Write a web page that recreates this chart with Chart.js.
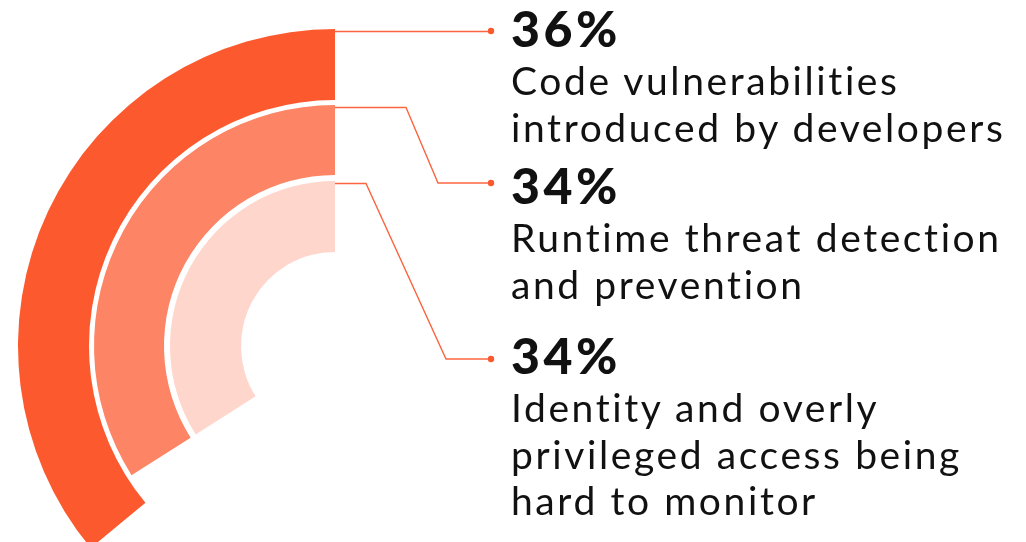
<!DOCTYPE html>
<html>
<head>
<meta charset="utf-8">
<script src="https://cdn.jsdelivr.net/npm/chart.js@4.4.1/dist/chart.umd.min.js"></script>
<style>
    html, body { margin: 0; padding: 0; background: #fff; }
    #wrap { position: relative; width: 1026px; height: 542px; overflow: hidden; }
    #chart { position: absolute; left: 0; top: 0; }
    .block { position: absolute; left: 511px; color: #111; font-family: "Lato", sans-serif; white-space: nowrap; }
    .pct { font-size: 50px; font-weight: 900; line-height: 48px; letter-spacing: 3.5px; }
    .desc { font-size: 39px; font-weight: 400; line-height: 46.5px; letter-spacing: 2.6px; margin-top: 5px; }
</style>
</head>
<body>
<div id="wrap">
    <canvas id="chart" width="1026" height="663"></canvas>
</div>
<script>
// data
const categories = [
    ['Code vulnerabilities', 'introduced by developers'],
    ['Runtime threat detection', 'and prevention'],
    ['Identity and overly', 'privileged access being', 'hard to monitor']
];
const shares = [36, 34, 34];
const ringColours = ['#fc5a2e', '#fd8465', '#ffd6cc'];

// layout
const blockTops = [4, 161, 331];
const anchors = [
    [[491, 31]],
    [[406, 108], [438, 183], [491, 183]],
    [[366, 185], [446, 359], [491, 359]]
];
const ringWeight = [71, 70, 71];
const gapWeight = [5, 6];

function makeRing(value, colour, weight) {
    return {
        data: [100 - value, value],
        backgroundColor: ['rgba(0,0,0,0)', colour],
        borderWidth: 0,
        weight: weight
    };
}

function makeGap(weight) {
    return {
        data: [100],
        backgroundColor: ['rgba(0,0,0,0)'],
        borderWidth: 0,
        weight: weight
    };
}

let datasets = new Array();
let ringIndex = new Array();
for (let i = 0; i < shares.length; i++) {
    ringIndex.push(datasets.length);
    datasets.push(makeRing(shares[i], ringColours[i], ringWeight[i]));
    if (i < gapWeight.length) {
        datasets.push(makeGap(gapWeight[i]));
    }
}

const leaderLines = {
    id: 'leaderLines',
    afterDatasetsDraw(chart) {
        const ctx = chart.ctx;
        ctx.save();
        ctx.strokeStyle = '#fb6540';
        ctx.fillStyle = '#fc5a2e';
        ctx.lineWidth = 1.4;
        for (let i = 0; i < ringIndex.length; i++) {
            const arc = chart.getDatasetMeta(ringIndex[i]).data[1];
            const pts = anchors[i];
            ctx.beginPath();
            ctx.moveTo(arc.x, arc.y - arc.outerRadius + 2.5);
            ctx.lineTo(pts[0][0], arc.y - arc.outerRadius + 2.5);
            for (let j = 1; j < pts.length; j++) {
                ctx.lineTo(pts[j][0], pts[j][1]);
            }
            ctx.stroke();
            const end = pts[pts.length - 1];
            ctx.beginPath();
            ctx.arc(end[0], end[1], 3.2, 0, Math.PI * 2);
            ctx.fill();
        }
        ctx.restore();
    }
};

new Chart(document.getElementById('chart'), {
    type: 'doughnut',
    data: {
        labels: ['rest', 'share'],
        datasets: datasets
    },
    options: {
        responsive: false,
        maintainAspectRatio: false,
        animation: false,
        cutout: 94,
        rotation: 0,
        circumference: 360,
        layout: {
            padding: { left: 18, top: 29, right: 374, bottom: 0 }
        },
        plugins: {
            legend: { display: false },
            tooltip: { enabled: false }
        },
        events: []
    },
    plugins: [leaderLines]
});

const wrap = document.getElementById('wrap');
for (let i = 0; i < categories.length; i++) {
    const block = document.createElement('div');
    block.className = 'block';
    block.style.top = blockTops[i] + 'px';
    const pct = document.createElement('div');
    pct.className = 'pct';
    pct.textContent = shares[i] + '%';
    const desc = document.createElement('div');
    desc.className = 'desc';
    desc.innerHTML = categories[i].join('<br>');
    block.appendChild(pct);
    block.appendChild(desc);
    wrap.appendChild(block);
}
</script>
</body>
</html>
